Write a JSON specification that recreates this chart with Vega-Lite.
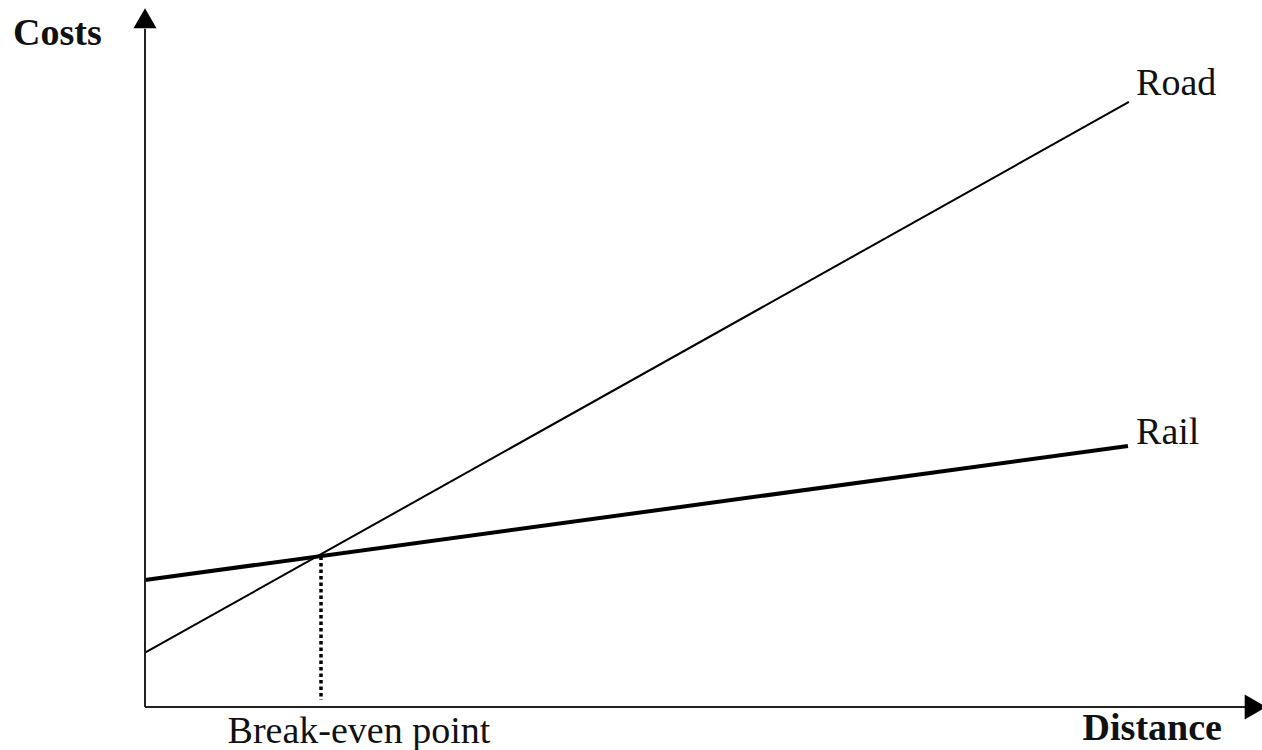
{
  "$schema": "https://vega.github.io/schema/vega-lite/v6.json",
  "width": 1262,
  "height": 750,
  "autosize": "none",
  "padding": 0,
  "background": "white",
  "datasets": {
    "costs": [
      {"mode": "Road", "distance": 0, "cost": 7.76},
      {"mode": "Road", "distance": 89.45, "cost": 86.43},
      {"mode": "Rail", "distance": 0, "cost": 18.14},
      {"mode": "Rail", "distance": 89.36, "cost": 37.29}
    ],
    "breakeven": [{"distance": 16.0, "cost": 21.5, "base": 1.0}],
    "axes": [
      {"axis": "x", "x": 0, "y": 0, "x2": 100, "y2": 0},
      {"axis": "y", "x": 0, "y": 0, "x2": 0, "y2": 96.9}
    ],
    "arrowsUp": [{"x": 0, "y": 98.4}],
    "arrowsRight": [{"x": 100.95, "y": 0}],
    "labelsLeft": [
      {"label": "Road", "x": 90.1, "y": 87.4},
      {"label": "Rail", "x": 90.1, "y": 37.6}
    ],
    "labelsCenter": [{"label": "Break-even point", "x": 19.45, "y": -5.1}],
    "titleCosts": [{"label": "Costs", "x": -12, "y": 94.6}],
    "titleDistance": [{"label": "Distance", "x": 97.9, "y": -4.7}]
  },
  "layer": [
    {
      "data": {"name": "costs"},
      "mark": {"type": "line", "color": "black", "clip": false},
      "encoding": {
        "x": {"field": "distance", "type": "quantitative", "axis": null,
              "scale": {"domain": [0, 100], "range": [145, 1245]}},
        "y": {"field": "cost", "type": "quantitative", "axis": null,
              "scale": {"domain": [0, 100], "range": [707, 7]}},
        "detail": {"field": "mode"},
        "strokeWidth": {"field": "mode", "type": "nominal", "legend": null,
                        "scale": {"domain": ["Road", "Rail"], "range": [2, 4]}}
      }
    },
    {
      "data": {"name": "breakeven"},
      "mark": {"type": "rule", "color": "black", "strokeWidth": 3.5, "strokeDash": [3.5, 3]},
      "encoding": {
        "x": {"field": "distance", "type": "quantitative"},
        "y": {"field": "cost", "type": "quantitative"},
        "y2": {"field": "base"}
      }
    },
    {
      "data": {"name": "axes"},
      "mark": {"type": "rule", "color": "#222", "strokeWidth": 2},
      "encoding": {
        "x": {"field": "x", "type": "quantitative"},
        "y": {"field": "y", "type": "quantitative"},
        "x2": {"field": "x2"},
        "y2": {"field": "y2"}
      }
    },
    {
      "data": {"name": "arrowsUp"},
      "mark": {"type": "point", "shape": "triangle-up", "filled": true, "color": "black", "opacity": 1, "size": 530},
      "encoding": {
        "x": {"field": "x", "type": "quantitative"},
        "y": {"field": "y", "type": "quantitative"}
      }
    },
    {
      "data": {"name": "arrowsRight"},
      "mark": {"type": "point", "shape": "triangle-right", "filled": true, "color": "black", "opacity": 1, "size": 620},
      "encoding": {
        "x": {"field": "x", "type": "quantitative"},
        "y": {"field": "y", "type": "quantitative"}
      }
    },
    {
      "data": {"name": "labelsLeft"},
      "mark": {"type": "text", "font": "Liberation Serif", "fontSize": 38, "align": "left", "baseline": "alphabetic", "color": "#111"},
      "encoding": {
        "x": {"field": "x", "type": "quantitative"},
        "y": {"field": "y", "type": "quantitative"},
        "text": {"field": "label"}
      }
    },
    {
      "data": {"name": "labelsCenter"},
      "mark": {"type": "text", "font": "Liberation Serif", "fontSize": 38, "align": "center", "baseline": "alphabetic", "color": "#111"},
      "encoding": {
        "x": {"field": "x", "type": "quantitative"},
        "y": {"field": "y", "type": "quantitative"},
        "text": {"field": "label"}
      }
    },
    {
      "data": {"name": "titleCosts"},
      "mark": {"type": "text", "font": "Liberation Serif", "fontSize": 38, "fontWeight": "bold", "align": "left", "baseline": "alphabetic", "color": "#111"},
      "encoding": {
        "x": {"field": "x", "type": "quantitative"},
        "y": {"field": "y", "type": "quantitative"},
        "text": {"field": "label"}
      }
    },
    {
      "data": {"name": "titleDistance"},
      "mark": {"type": "text", "font": "Liberation Serif", "fontSize": 38, "fontWeight": "bold", "align": "right", "baseline": "alphabetic", "color": "#111"},
      "encoding": {
        "x": {"field": "x", "type": "quantitative"},
        "y": {"field": "y", "type": "quantitative"},
        "text": {"field": "label"}
      }
    }
  ],
  "config": {"view": {"stroke": null}}
}
